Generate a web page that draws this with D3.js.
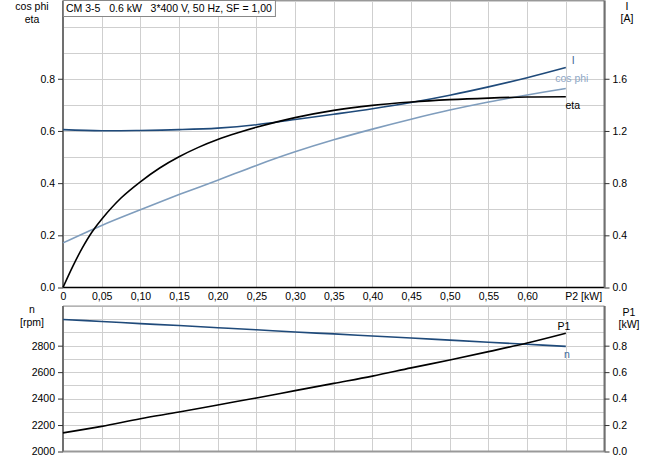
<!DOCTYPE html>
<html><head><meta charset="utf-8">
<script src="https://cdn.jsdelivr.net/npm/d3@7"></script>
<style>
html,body{margin:0;padding:0;background:#fff;}
svg{display:block;font-family:"Liberation Sans",Arial,sans-serif;}
</style></head>
<body><svg id="c" width="656" height="460"></svg>
<script>
// ---- data ----
const p2 = [0, 0.05, 0.10, 0.15, 0.20, 0.25, 0.30, 0.35, 0.40, 0.45, 0.50, 0.55, 0.60, 0.65];
const etaP2 = [0, 0.0125, 0.025, 0.0375, 0.05, 0.075, 0.10, 0.125, 0.15, 0.175, 0.20, 0.225, 0.25, 0.30, 0.35, 0.40, 0.45, 0.50, 0.55, 0.60, 0.65];
const eta = [0, 0.08, 0.152, 0.213, 0.262, 0.343, 0.405, 0.458, 0.501, 0.537, 0.567, 0.592, 0.614, 0.651, 0.679, 0.698, 0.711, 0.72, 0.726, 0.73, 0.731];
const cosPhi = [0.171, 0.238, 0.298, 0.356, 0.411, 0.468, 0.52, 0.566, 0.607, 0.645, 0.68, 0.711, 0.738, 0.763];
const current = [1.21, 1.202, 1.204, 1.21, 1.222, 1.248, 1.288, 1.328, 1.37, 1.418, 1.474, 1.538, 1.608, 1.686];
const speed = [2998, 2983, 2967, 2952, 2936, 2920, 2903, 2889, 2873, 2858, 2842, 2826, 2811, 2795];
const p1 = [0.141, 0.19, 0.248, 0.298, 0.352, 0.405, 0.46, 0.515, 0.57, 0.632, 0.692, 0.755, 0.82, 0.894];
const xTicks = [0, 0.05, 0.10, 0.15, 0.20, 0.25, 0.30, 0.35, 0.40, 0.45, 0.50, 0.55, 0.60, 0.65];
const xTickLabels = ["0", "0,05", "0,10", "0,15", "0,20", "0,25", "0,30", "0,35", "0,40", "0,45", "0,50", "0,55", "0,60", "P2 [kW]"];
const leftTopTicks = [0, 0.2, 0.4, 0.6, 0.8];
const rightTopTicks = [0, 0.4, 0.8, 1.2, 1.6];
const nTicks = [2000, 2200, 2400, 2600, 2800];
const p1Ticks = [0, 0.2, 0.4, 0.6, 0.8];
const title = "CM 3-5   0.6 kW   3*400 V, 50 Hz, SF = 1,00";

// ---- layout ----
const svg = d3.select("#c");
const L = 63, R = 604.5;
const T1 = 0.5, B1 = 287.5, T2 = 306, B2 = 451.5;
const fs = 10.5;
const cDark = "#1f4a7a", cLight = "#7f9dbd", grid = "#cfcfcf", axisC = "#707070";

const x = d3.scaleLinear().domain([0, 0.70]).range([L, R]);
const yL = d3.scaleLinear().domain([0, 1.1]).range([B1, T1]);
const yR = d3.scaleLinear().domain([0, 2.2]).range([B1, T1]);
const yN = d3.scaleLinear().domain([2000, 3100]).range([B2, T2]);
const yP = d3.scaleLinear().domain([0, 1.1]).range([B2, T2]);

const gridX = d3.range(0, 0.70001, 0.05);
function vgrid(top, bot) {
  svg.append("g").selectAll("line").data(gridX.slice(1)).join("line")
    .attr("x1", d => Math.round(x(d)) + 0.5).attr("x2", d => Math.round(x(d)) + 0.5)
    .attr("y1", top).attr("y2", bot).attr("stroke", grid).attr("stroke-width", 1);
}
vgrid(T1, B1); vgrid(T2, B2);
svg.append("g").selectAll("line").data(d3.range(0.1, 1.1001, 0.1)).join("line")
  .attr("x1", L).attr("x2", R).attr("y1", d => Math.round(yL(d)) + 0.5).attr("y2", d => Math.round(yL(d)) + 0.5)
  .attr("stroke", grid);
svg.append("g").selectAll("line").data(d3.range(2100, 3100.1, 100)).join("line")
  .attr("x1", L).attr("x2", R).attr("y1", d => Math.round(yN(d)) + 0.5).attr("y2", d => Math.round(yN(d)) + 0.5)
  .attr("stroke", grid);

// frames
svg.append("line").attr("x1", L).attr("x2", R).attr("y1", T1).attr("y2", T1).attr("stroke", "#999");
svg.append("line").attr("x1", L).attr("x2", R).attr("y1", T2).attr("y2", T2).attr("stroke", "#999");
svg.append("line").attr("x1", L).attr("x2", R).attr("y1", B1).attr("y2", B1).attr("stroke", "#000").attr("stroke-width", 1.3);
svg.append("line").attr("x1", L).attr("x2", R).attr("y1", B2).attr("y2", B2).attr("stroke", "#999").attr("stroke-width", 2);
[[T1, B1], [T2, B2]].forEach(([t, b]) => {
  svg.append("line").attr("x1", L).attr("x2", L).attr("y1", t).attr("y2", b).attr("stroke", axisC).attr("stroke-width", 2);
  svg.append("line").attr("x1", R).attr("x2", R).attr("y1", t).attr("y2", b).attr("stroke", axisC).attr("stroke-width", 2);
});

// axes
function styleAxis(g) {
  g.select(".domain").remove();
  g.selectAll(".tick line").attr("stroke", "#333");
  g.selectAll("text").attr("font-size", fs).attr("fill", "#000").attr("font-family", "Liberation Sans, Arial, sans-serif");
}
svg.append("g").attr("transform", `translate(${L},0)`)
  .call(d3.axisLeft(yL).tickValues(leftTopTicks).tickFormat(d3.format(".1f")).tickSize(5).tickPadding(3)).call(styleAxis);
svg.append("g").attr("transform", `translate(${R},0)`)
  .call(d3.axisRight(yR).tickValues(rightTopTicks).tickFormat(d3.format(".1f")).tickSize(5).tickPadding(3)).call(styleAxis);
svg.append("g").attr("transform", `translate(${L},0)`)
  .call(d3.axisLeft(yN).tickValues(nTicks).tickFormat(d3.format("d")).tickSize(5).tickPadding(3)).call(styleAxis);
svg.append("g").attr("transform", `translate(${R},0)`)
  .call(d3.axisRight(yP).tickValues(p1Ticks).tickFormat(d3.format(".1f")).tickSize(5).tickPadding(3)).call(styleAxis);
const xa = svg.append("g").attr("transform", `translate(0,${B1})`)
  .call(d3.axisBottom(x).tickValues(xTicks).tickFormat((d, i) => xTickLabels[i]).tickSize(0).tickPadding(5)).call(styleAxis);
xa.selectAll(".tick text").filter((d, i) => i === xTicks.length - 1).attr("text-anchor", "start").attr("dx", -1);

// axis titles
function label(t, xx, yy, anchor) {
  svg.append("text").attr("x", xx).attr("y", yy).attr("text-anchor", anchor || "middle")
    .attr("font-size", fs).attr("fill", "#000").text(t);
}
label("cos phi", 32, 10); label("eta", 32, 23);
label("I", 627, 10); label("[A]", 627, 22);
label("n", 32, 313); label("[rpm]", 32, 326);
label("P1", 629, 316); label("[kW]", 629, 328);

// curves
const curve = d3.curveCatmullRom.alpha(0.5);
const lineTop = (xs, ys, sc) => d3.line().x((d, i) => x(xs[i])).y(d => sc(d)).curve(curve)(ys);
svg.append("path").attr("d", lineTop(p2, cosPhi, yL)).attr("fill", "none").attr("stroke", cLight).attr("stroke-width", 1.6);
svg.append("path").attr("d", lineTop(p2, current, yR)).attr("fill", "none").attr("stroke", cDark).attr("stroke-width", 1.6);
svg.append("path").attr("d", lineTop(etaP2, eta, yL)).attr("fill", "none").attr("stroke", "#000").attr("stroke-width", 1.6);
svg.append("path").attr("d", lineTop(p2, speed, yN)).attr("fill", "none").attr("stroke", cDark).attr("stroke-width", 1.6);
svg.append("path").attr("d", lineTop(p2, p1, yP)).attr("fill", "none").attr("stroke", "#000").attr("stroke-width", 1.6);

// curve labels
const xe = x(0.65);
svg.append("text").attr("x", xe + 6).attr("y", yR(current[current.length - 1]) - 4).attr("font-size", fs).attr("fill", "#3f6694").text("I");
svg.append("text").attr("x", xe + 6).attr("y", yL(cosPhi[cosPhi.length - 1]) - 6).attr("font-size", fs).attr("fill", "#8fa8c6").attr("text-anchor", "middle").text("cos phi");
svg.append("text").attr("x", xe + 7).attr("y", yL(eta[eta.length - 1]) + 12).attr("font-size", fs).attr("fill", "#000").attr("text-anchor", "middle").text("eta");
svg.append("text").attr("x", xe + 1).attr("y", yN(speed[speed.length - 1]) + 12).attr("font-size", fs).attr("fill", "#3a6a9a").attr("text-anchor", "middle").text("n");
svg.append("text").attr("x", xe - 2).attr("y", yP(p1[p1.length - 1]) - 3).attr("font-size", fs).attr("fill", "#000").attr("text-anchor", "middle").text("P1");

// title box
const tb = svg.append("g");
const tt = tb.append("text").attr("x", L + 3).attr("y", 12).attr("font-size", fs).attr("fill", "#000").attr("xml:space", "preserve").style("white-space", "pre").text(title);
const w = tt.node().getComputedTextLength();
tb.insert("rect", "text").attr("x", L + 0.5).attr("y", 0.5).attr("width", w + 6).attr("height", 16).attr("fill", "#fff").attr("stroke", "#888");
</script></body></html>
